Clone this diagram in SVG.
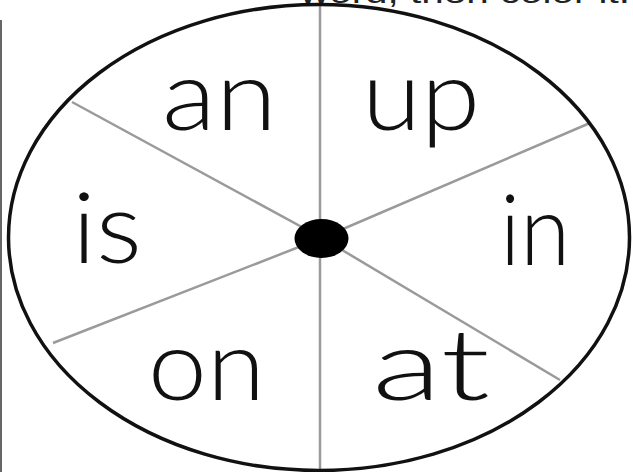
<svg xmlns="http://www.w3.org/2000/svg" width="633" height="472" viewBox="0 0 633 472">
<style>
.word{font-family:"Lato","Open Sans","Liberation Sans",sans-serif;font-size:98px;fill:#111;font-weight:300}
.spoke{stroke:#9a9a9a;stroke-width:2.5;fill:none}
.top{font-family:"Liberation Sans",sans-serif;font-size:30px;fill:#222}
</style>
<rect x="0" y="0" width="633" height="472" fill="#fff"/>
<rect x="0" y="20" width="2" height="452" fill="#666"/>
<text class="top" x="300" y="3" textLength="330" lengthAdjust="spacingAndGlyphs">word, then color it.</text>
<g id="connectors">
<line class="spoke" x1="320" y1="5" x2="320" y2="238"/>
<line class="spoke" x1="320" y1="238" x2="320" y2="470"/>
<line class="spoke" x1="72" y1="102" x2="322" y2="238"/>
<line class="spoke" x1="590" y1="123" x2="322" y2="238"/>
<line class="spoke" x1="53" y1="343" x2="322" y2="238"/>
<line class="spoke" x1="560" y1="380" x2="322" y2="238"/>
</g>
<g id="rim"><ellipse cx="319" cy="237.5" rx="310.5" ry="233" fill="none" stroke="#111" stroke-width="3.5"/></g>
<g id="hub"><ellipse cx="321.5" cy="238.5" rx="27" ry="19.5" fill="#000"/></g>
<g id="w-an"><text class="word" x="162" y="130" textLength="115" lengthAdjust="spacingAndGlyphs">an</text></g>
<g id="w-up"><text class="word" x="362" y="130" textLength="118" lengthAdjust="spacingAndGlyphs">up</text></g>
<g id="w-is"><text class="word" x="72" y="263" textLength="70" lengthAdjust="spacingAndGlyphs">is</text></g>
<g id="w-in"><text class="word" x="500" y="265" textLength="70" lengthAdjust="spacingAndGlyphs">in</text></g>
<g id="w-on"><text class="word" x="148" y="400" textLength="117" lengthAdjust="spacingAndGlyphs">on</text></g>
<g id="w-at"><text class="word" x="372" y="400" textLength="118" lengthAdjust="spacingAndGlyphs">at</text></g>
</svg>
